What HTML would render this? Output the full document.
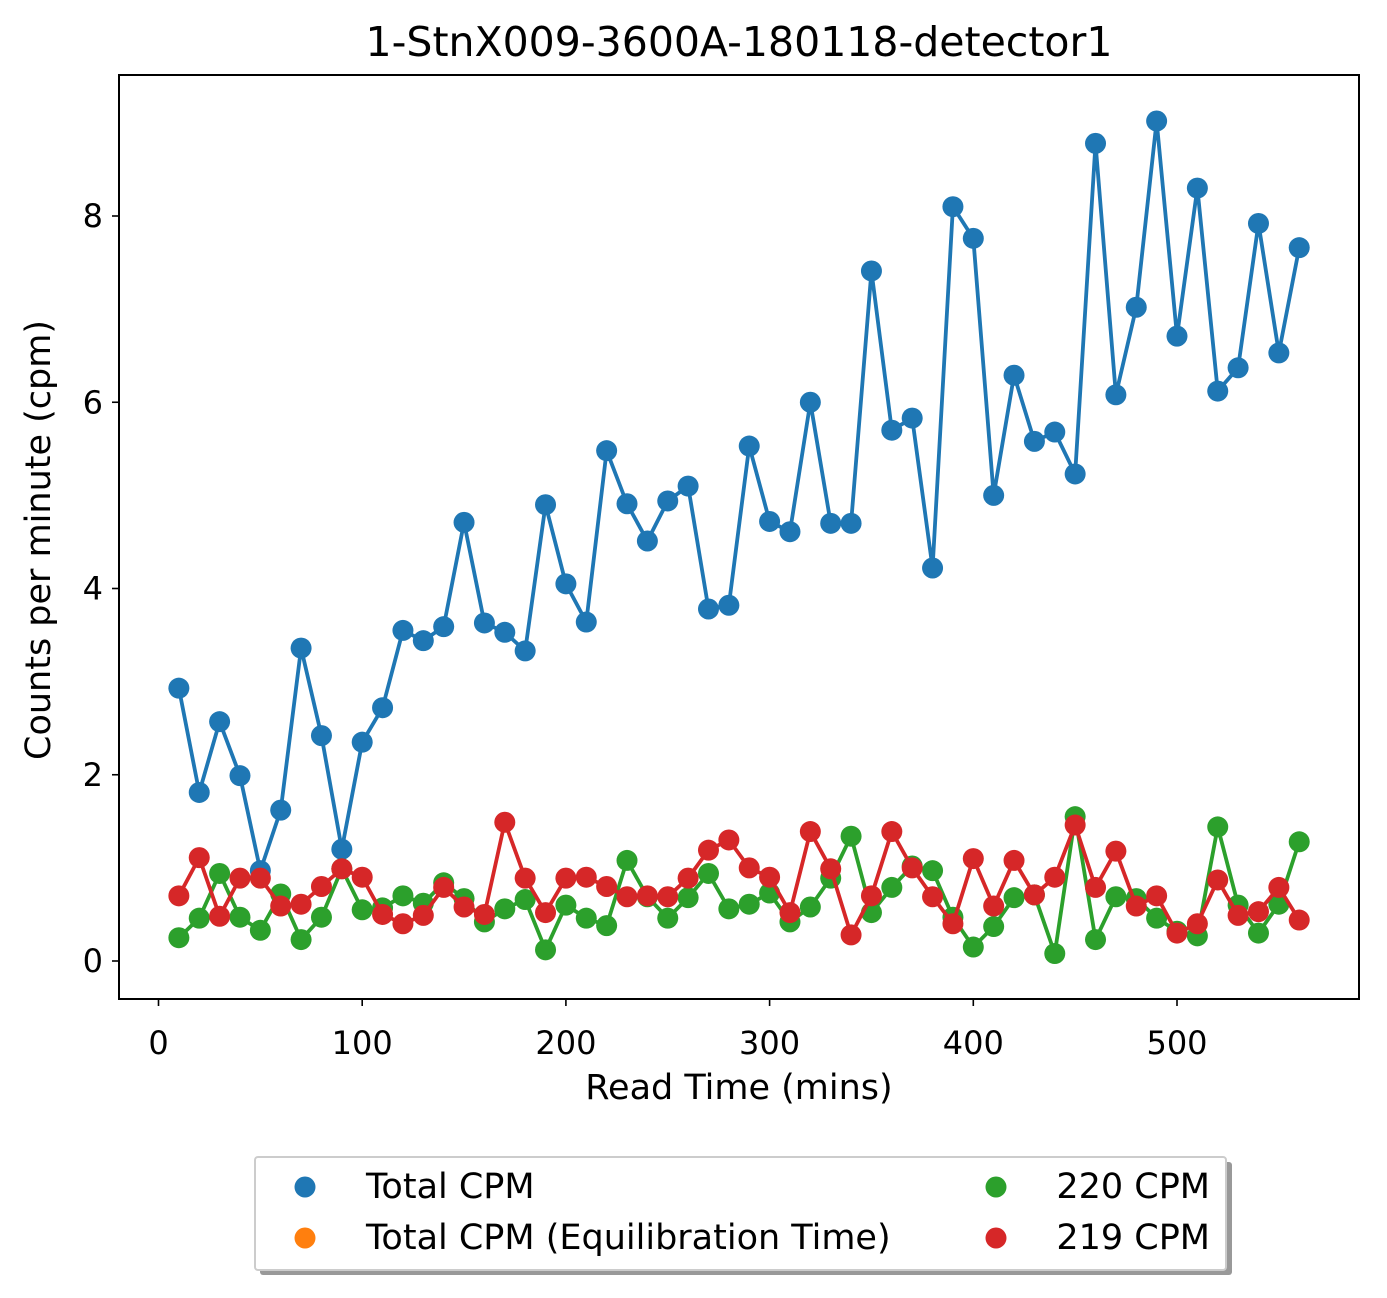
<!DOCTYPE html>
<html><head><meta charset="utf-8"><style>
body{margin:0;background:#fff;font-family:"DejaVu Sans","Liberation Sans",sans-serif;}
svg text{font-family:"DejaVu Sans","Liberation Sans",sans-serif;fill:#000;}
</style></head><body>
<svg id="chart" width="1387" height="1294" xmlns="http://www.w3.org/2000/svg">
<rect width="1387" height="1294" fill="#fff"/>
<text x="739" y="56" font-size="41" text-anchor="middle">1-StnX009-3600A-180118-detector1</text>
<g id="grid"></g>
<g id="series"></g>
<rect x="119" y="75" width="1240" height="924" fill="none" stroke="#000" stroke-width="2"/>
<g id="axes"></g>
<text x="739" y="1099" font-size="35" text-anchor="middle">Read Time (mins)</text>
<text transform="translate(50,540) rotate(-90)" font-size="35" text-anchor="middle">Counts per minute (cpm)</text>
<g>
<rect x="260" y="1162" width="972" height="113" rx="3" fill="#999"/>
<rect x="255" y="1157" width="971" height="113" rx="3" fill="#fff" stroke="#ccc" stroke-width="2"/>
<circle cx="305" cy="1187" r="10.5" fill="#1f77b4"/>
<text x="366" y="1198" font-size="35">Total CPM</text>
<circle cx="305" cy="1238" r="10.5" fill="#ff7f0e"/>
<text x="366" y="1249" font-size="35">Total CPM (Equilibration Time)</text>
<circle cx="996" cy="1187" r="10.5" fill="#2ca02c"/>
<text x="1210" y="1198" font-size="35" text-anchor="end">220 CPM</text>
<circle cx="996" cy="1238" r="10.5" fill="#d62728"/>
<text x="1210" y="1249" font-size="35" text-anchor="end">219 CPM</text>
</g>
</svg>
<script>
const times=[10,20,30,40,50,60,70,80,90,100,110,120,130,140,150,160,170,180,190,200,210,220,230,240,250,260,270,280,290,300,310,320,330,340,350,360,370,380,390,400,410,420,430,440,450,460,470,480,490,500,510,520,530,540,550,560];
const totalCpm=[2.93,1.81,2.57,1.99,0.97,1.62,3.36,2.42,1.20,2.35,2.72,3.55,3.44,3.59,4.71,3.63,3.53,3.33,4.90,4.05,3.64,5.48,4.91,4.51,4.94,5.10,3.78,3.82,5.53,4.72,4.61,6.00,4.70,4.70,7.41,5.70,5.83,4.22,8.10,7.76,5.00,6.29,5.58,5.68,5.23,8.78,6.08,7.02,9.02,6.71,8.30,6.12,6.37,7.92,6.53,7.66];
const cpm220=[0.25,0.46,0.94,0.47,0.33,0.72,0.23,0.47,0.99,0.55,0.57,0.70,0.62,0.84,0.67,0.42,0.56,0.66,0.12,0.60,0.46,0.38,1.08,0.69,0.46,0.68,0.94,0.56,0.61,0.73,0.42,0.58,0.89,1.34,0.52,0.79,1.02,0.97,0.47,0.15,0.37,0.68,0.71,0.08,1.55,0.23,0.69,0.67,0.46,0.32,0.27,1.44,0.60,0.30,0.61,1.28];
const cpm219=[0.70,1.11,0.48,0.89,0.89,0.59,0.61,0.80,0.99,0.90,0.50,0.40,0.49,0.79,0.58,0.50,1.49,0.89,0.52,0.89,0.90,0.80,0.69,0.70,0.69,0.89,1.19,1.30,1.00,0.90,0.52,1.39,0.99,0.28,0.70,1.39,1.00,0.69,0.40,1.10,0.59,1.08,0.71,0.90,1.46,0.79,1.18,0.59,0.70,0.30,0.40,0.87,0.49,0.53,0.79,0.44];
const xTicks=[0,100,200,300,400,500];
const yTicks=[0,2,4,6,8];
const NS="http://www.w3.org/2000/svg";
const sx=v=>158.5+v*(1177-158.5)/500;
const sy=v=>961-v*(961-216)/8;
const axes=document.getElementById('axes'),ser=document.getElementById('series');
function mk(tag,attrs,parent){const e=document.createElementNS(NS,tag);for(const k in attrs)e.setAttribute(k,attrs[k]);parent.appendChild(e);return e;}
xTicks.forEach(t=>{
  const l=mk('line',{x1:sx(t),x2:sx(t),y1:999,y2:1006,stroke:'#000','stroke-width':1.6},axes);
  
  
  const tx=mk('text',{x:sx(t),y:1054,'font-size':32,'text-anchor':'middle'},axes);
  tx.textContent=t;
  
  
});
yTicks.forEach(t=>{
  const l=mk('line',{x1:112,x2:119,y1:sy(t),y2:sy(t),stroke:'#000','stroke-width':1.6},axes);
  
  
  const tx=mk('text',{x:103,y:sy(t)+11,'font-size':32,'text-anchor':'end'},axes);
  tx.textContent=t;
  
  
});
function drawSeries(vals,color,name){
  const g=mk('g',{},ser);
  
  
  const pl=mk('polyline',{points:vals.map((v,i)=>sx(times[i])+','+sy(v)).join(' '),fill:'none',stroke:color,'stroke-width':3.8,'stroke-linejoin':'round'},g);
  
  
  vals.forEach((v,i)=>{
    const c=mk('circle',{cx:sx(times[i]),cy:sy(v),r:10.5,fill:color},g);
    
    
  });
}
drawSeries(totalCpm,'#1f77b4','total-cpm');
drawSeries(cpm220,'#2ca02c','cpm-220');
drawSeries(cpm219,'#d62728','cpm-219');
</script>
</body></html>
